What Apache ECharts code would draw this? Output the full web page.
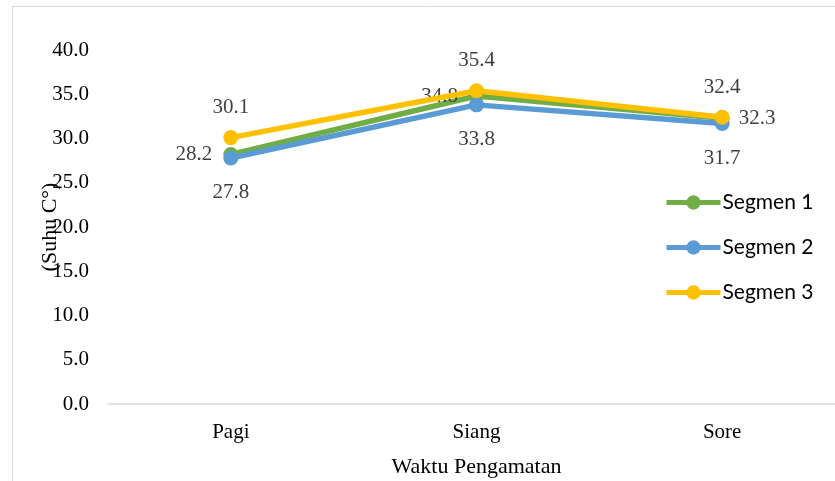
<!DOCTYPE html>
<html>
<head>
<meta charset="utf-8">
<script src="https://cdn.jsdelivr.net/npm/echarts@6/dist/echarts.min.js"></script>
<style>
	html, body { margin: 0; padding: 0; background: #fff; }
	#chart { width: 835px; height: 481px; }
</style>
</head>
<body>
<div id="chart"></div>
<script>
const categories = ['Pagi', 'Siang', 'Sore'];
const segmen1 = [28.2, 34.8, 32.3];
const segmen2 = [27.8, 33.8, 31.7];
const segmen3 = [30.1, 35.4, 32.4];
const seriesNames = ['Segmen 1', 'Segmen 2', 'Segmen 3'];

const SERIF = '"Liberation Serif", "Times New Roman", serif';
const colors = ['#70AD47', '#5B9BD5', '#FFC000'];
// label placement per series, like the original: green left/right, blue below, yellow above
const labelPos = [
	['left', 'left', 'right'],
	['bottom', 'bottom', 'bottom'],
	['top', 'top', 'top']
];
const labelDist = { left: 11, right: 9, top: 12, bottom: 17 };

function makeSeries(name, values, index) {
	return {
		name: name,
		type: 'line',
		data: values.map((v, i) => ({
			value: v,
			label: { position: labelPos[index][i], distance: labelDist[labelPos[index][i]] }
		})),
		symbol: 'circle',
		symbolSize: 15,
		lineStyle: { width: 5.5, color: colors[index] },
		itemStyle: { color: colors[index] },
		z: 2 + index,
		label: {
			show: true,
			formatter: (p) => p.value.toFixed(1),
			fontFamily: SERIF,
			fontSize: 21,
			color: '#404040'
		}
	};
}

const chart = echarts.init(document.getElementById('chart'));
chart.setOption({
	animation: false,
	graphic: [{
		type: 'rect',
		z: -1,
		shape: { x: 12.5, y: 6.5, width: 900, height: 600 },
		style: { fill: 'none', stroke: '#d9d9d9', lineWidth: 1 }
	}],
	grid: { left: 108, right: -10, top: 50, bottom: 77, outerBoundsMode: 'none' },
	legend: {
		orient: 'vertical',
		left: 659,
		top: 187,
		itemGap: 24,
		itemWidth: 54,
		itemHeight: 18,
		lineStyle: { width: 5 },
		textStyle: { fontFamily: 'Lato, "Open Sans", sans-serif', fontSize: 21, color: '#000', padding: [0, 0, 0, -3] },
		data: seriesNames
	},
	xAxis: {
		type: 'category',
		data: categories,
		boundaryGap: true,
		axisLine: { lineStyle: { color: '#d9d9d9', width: 1.5 } },
		axisTick: { show: false },
		axisLabel: { fontFamily: SERIF, fontSize: 21, color: '#000', margin: 18 },
		name: 'Waktu Pengamatan',
		nameLocation: 'middle',
		nameGap: 52,
		nameTextStyle: { fontFamily: SERIF, fontSize: 22, color: '#000' }
	},
	yAxis: {
		type: 'value',
		min: 0,
		max: 40,
		interval: 5,
		axisLine: { show: false },
		axisTick: { show: false },
		splitLine: { show: false },
		axisLabel: {
			fontFamily: SERIF,
			fontSize: 21,
			color: '#000',
			margin: 19,
			formatter: (v) => v.toFixed(1)
		},
		name: '(Suhu C°)',
		nameLocation: 'middle',
		nameRotate: 90,
		nameGap: 47,
		nameMoveOverlap: false,
		nameTextStyle: { fontFamily: SERIF, fontSize: 22, color: '#000' }
	},
	series: [
		makeSeries(seriesNames[0], segmen1, 0),
		makeSeries(seriesNames[1], segmen2, 1),
		makeSeries(seriesNames[2], segmen3, 2)
	]
});
</script>
</body>
</html>
